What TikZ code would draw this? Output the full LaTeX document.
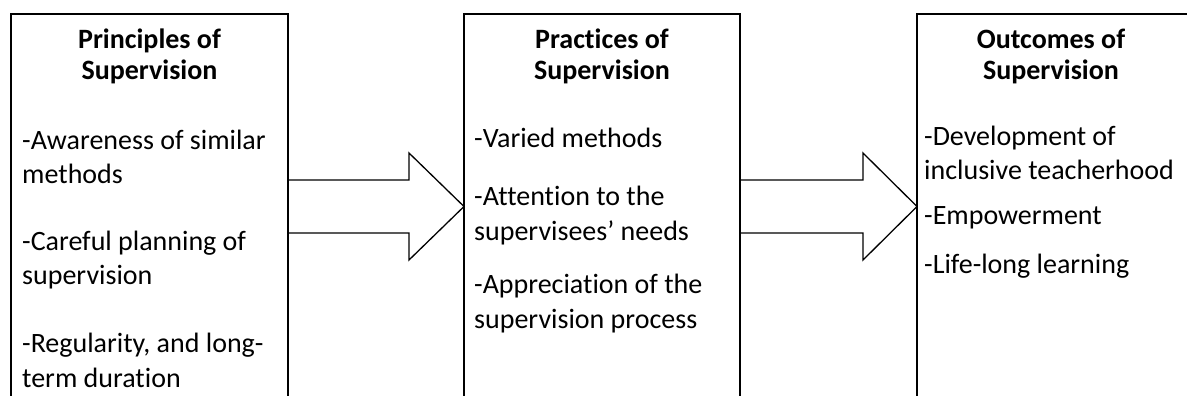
\documentclass[tikz,border=0pt]{standalone}
\usepackage{fontspec}
\setmainfont[Ligatures=NoCommon]{Carlito}
\tikzset{
  box/.style={draw=black, line width=2pt, outer sep=0pt, inner sep=0pt, minimum height=440pt, anchor=north west},
  blockarrow/.style={draw=black, line width=1.3pt, line join=miter},
  ttl/.style={font=\fontsize{28}{34}\selectfont\bfseries, inner sep=0pt, anchor=base},
  itm/.style={font=\fontsize{28}{34}\selectfont, inner sep=0pt, anchor=base west},
}
\begin{document}
\begin{tikzpicture}[x=1pt,y=-1pt]
\useasboundingbox (0,0) rectangle (1187,396);
\clip (0,0) rectangle (1187,396);
% boxes
\node[box, minimum width=277pt] (pbox) at (11,14) {};
\node[box, minimum width=276pt] (qbox) at (464,14) {};
\node[box, minimum width=300pt] (rbox) at (917,14) {};
% arrows
\draw[blockarrow] (pbox.north east) ++(0,166) -- ++(121,0) -- ++(0,-27) -- ++(55,53.5) -- ++(-55,53.5) -- ++(0,-27) -- ++(-121,0);
\draw[blockarrow] (qbox.north east) ++(0,166) -- ++(123,0) -- ++(0,-27) -- ++(54,53.5) -- ++(-54,53.5) -- ++(0,-27) -- ++(-123,0);
% box 1 text
\node[ttl] (p0a) at (149.5,49) {Principles of};
\node[ttl] (p0b) at (149.5,80) {Supervision};
\node[itm] (p1a) at (22,149) {-Awareness of similar};
\node[itm] (p1b) at (22,183) {methods};
\node[itm] (p2a) at (22,250) {-Careful planning of};
\node[itm] (p2b) at (22,284) {supervision};
\node[itm] (p3a) at (22,352) {-Regularity, and long-};
\node[itm] (p3b) at (22,387) {term duration};
% box 2 text
\node[ttl] (q0a) at (602,49) {Practices of};
\node[ttl] (q0b) at (602,80) {Supervision};
\node[itm] (q1a) at (474,147) {-Varied methods};
\node[itm] (q2a) at (474,205) {-Attention to the};
\node[itm] (q2b) at (474,240) {supervisees’ needs};
\node[itm] (q3a) at (474,293) {-Appreciation of the};
\node[itm] (q3b) at (474,328) {supervision process};
% box 3 text
\node[ttl] (r0a) at (1051,49) {Outcomes of};
\node[ttl] (r0b) at (1051,80) {Supervision};
\node[itm] (r1a) at (924,146) {-Development of};
\node[itm] (r1b) at (924,179) {inclusive teacherhood};
\node[itm] (r2a) at (924,224) {-Empowerment};
\node[itm] (r3a) at (924,273) {-Life-long learning};
\end{tikzpicture}
\end{document}
